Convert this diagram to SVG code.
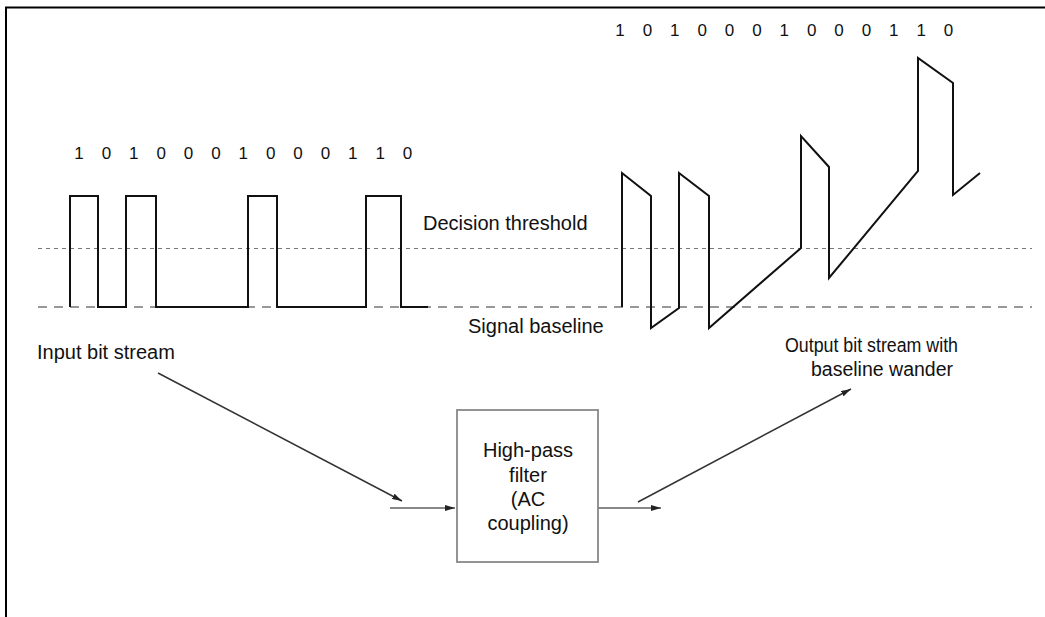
<svg xmlns="http://www.w3.org/2000/svg" width="1045" height="617" viewBox="0 0 1045 617">
<style>
.t{font-family:"Liberation Sans",Arial,sans-serif;font-size:20px;fill:#111}
.bits{font-family:"Liberation Sans",Arial,sans-serif;font-size:17px;fill:#111;letter-spacing:6.6px}
.wave{fill:none;stroke:#111;stroke-width:2;stroke-linejoin:miter}
.thr{stroke:#777;stroke-width:1.2;stroke-dasharray:4 4;fill:none}
.base{stroke:#777;stroke-width:1.4;stroke-dasharray:9 7;fill:none}
.diag{stroke:#333;stroke-width:1.5;fill:none}
.hor{stroke:#888;stroke-width:2;fill:none}
</style>
<defs>
<marker id="ah" viewBox="0 0 10 6" refX="10" refY="3" markerWidth="10" markerHeight="6" markerUnits="userSpaceOnUse" orient="auto">
<path d="M0,0 L10,3 L0,6 Z" fill="#222"/>
</marker>
</defs>
<rect width="1045" height="617" fill="#fff"/>
<g id="frame">
<path d="M6,617 V7.5 H1045" fill="none" stroke="#000" stroke-width="2"/>
</g>
<g id="reference-lines">
<line class="thr" x1="38" y1="248.5" x2="1032" y2="248.5"/>
<line class="base" x1="38" y1="307" x2="1032" y2="307"/>
<text class="t" x="423" y="230">Decision threshold</text>
<text class="t" x="468" y="333">Signal baseline</text>
</g>
<g id="input-waveform">
<text class="bits" x="74.3" y="159">1 0 1 0 0 0 1 0 0 0 1 1 0</text>
<path class="wave" d="M70,307 V196 H98 V307 H126 V196 H156 V307 H248 V196 H277 V307 H366 V196 H401 V307 H428"/>
</g>
<g id="output-waveform">
<text class="bits" x="615.3" y="36">1 0 1 0 0 0 1 0 0 0 1 1 0</text>
<path class="wave" d="M622,307 V173 L651,196 V328 L679,308 V173 L709,196 V328 L801,248 V136 L829,167 V278 L918,171 V58 L953,83 V195 L980,173"/>
</g>
<g id="input-label">
<text class="t" x="37" y="359">Input bit stream</text>
</g>
<g id="output-label">
<text class="t" x="785" y="352" textLength="173" lengthAdjust="spacingAndGlyphs">Output bit stream with</text>
<text class="t" x="811" y="376" textLength="142" lengthAdjust="spacingAndGlyphs">baseline wander</text>
</g>
<g id="filter">
<rect x="457" y="410" width="141" height="152" fill="#fff" stroke="#888" stroke-width="1.8"/>
<text class="t" text-anchor="middle" x="528" y="457">High-pass</text>
<text class="t" text-anchor="middle" x="528" y="482">filter</text>
<text class="t" text-anchor="middle" x="528" y="506">(AC</text>
<text class="t" text-anchor="middle" x="528" y="530">coupling)</text>
</g>
<g id="connectors">
<line class="diag" x1="158" y1="373" x2="402" y2="501" marker-end="url(#ah)"/>
<line class="hor" x1="390" y1="508" x2="455" y2="508" marker-end="url(#ah)"/>
<line class="hor" x1="598" y1="508" x2="661" y2="508" marker-end="url(#ah)"/>
<line class="diag" x1="638" y1="502" x2="851" y2="389" marker-end="url(#ah)"/>
</g>
</svg>
